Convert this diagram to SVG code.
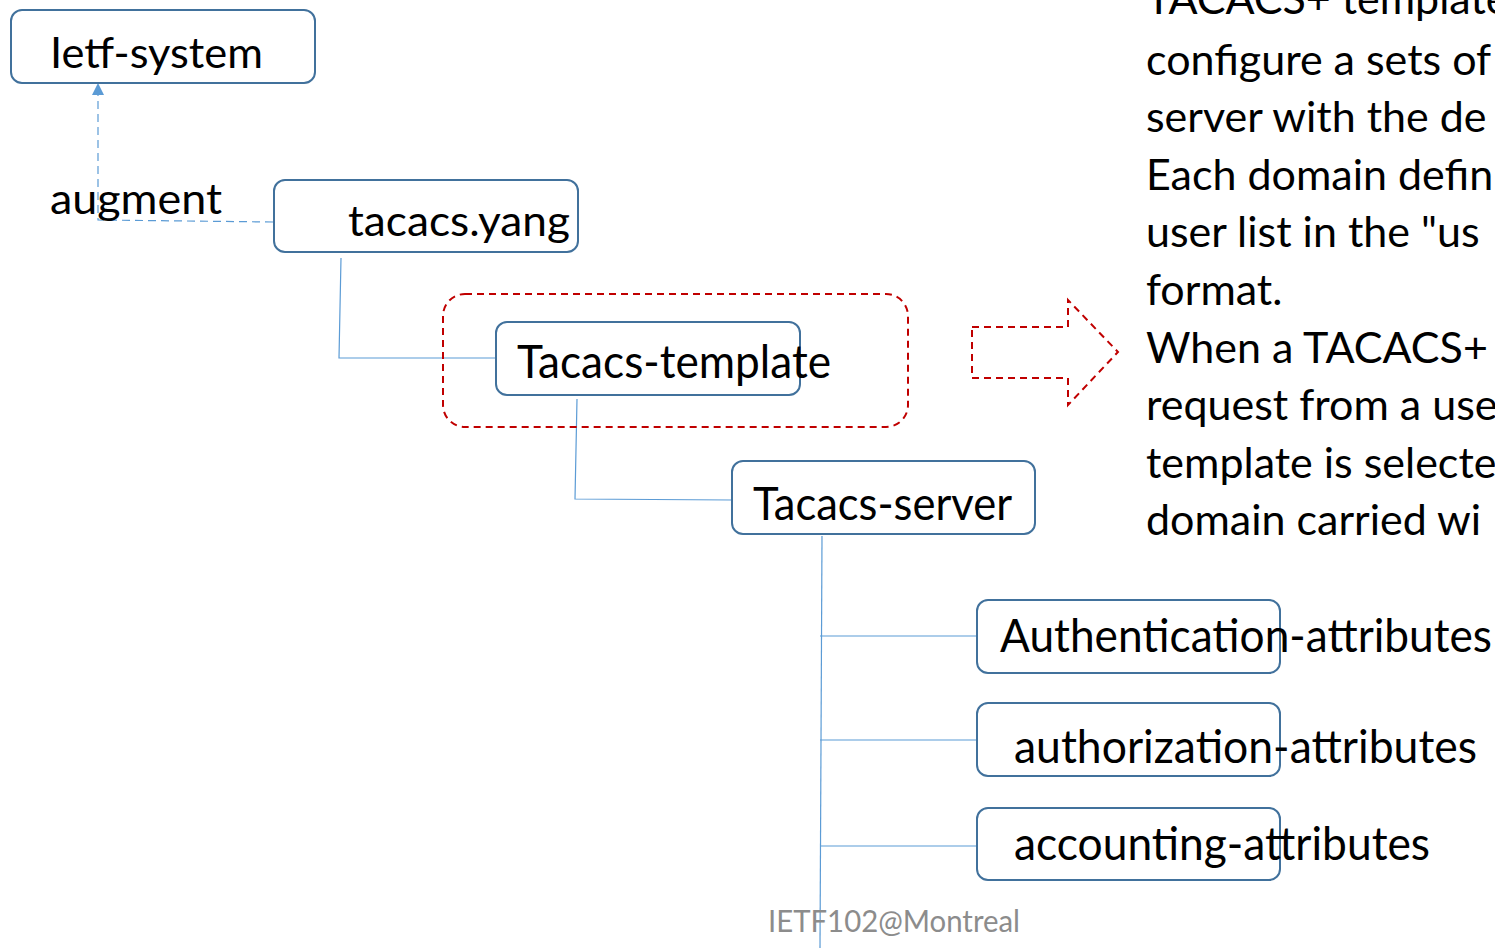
<svg xmlns="http://www.w3.org/2000/svg" width="1495" height="948" viewBox="0 0 1495 948">
<style>
.box{fill:#fff;stroke:#41719C;stroke-width:2}
.lbl{font-family:Lato,"Open Sans",sans-serif;fill:#000}
.conn{fill:none;stroke:#5B9BD5;stroke-width:1.2}
.red{fill:none;stroke:#C00000;stroke-width:2;stroke-dasharray:7 5}
.body{font-family:Lato,"Open Sans",sans-serif;font-size:43px;fill:#000}
</style>
<defs>
<marker id="ah" viewBox="0 0 10 10" refX="10" refY="5" markerUnits="userSpaceOnUse" markerWidth="13" markerHeight="12" orient="auto">
<path d="M0,0 L10,5 L0,10 z" fill="#5B9BD5"/>
</marker>
</defs>
<rect width="1495" height="948" fill="#fff"/>
<g id="connectors">
<path class="conn" d="M273,222 L98,220 L98,83" stroke-dasharray="8 5" marker-end="url(#ah)"/>
<path class="conn" d="M341,258 L339,358 L496,358"/>
<path class="conn" d="M577,399 L575,499 L732,500"/>
<path class="conn" d="M822,536 L820,948"/>
<path class="conn" d="M820,636 L977,636"/>
<path class="conn" d="M820,740 L977,740"/>
<path class="conn" d="M820,846 L977,846"/>
</g>
<g id="augment-label">
<text class="lbl" x="50" y="214" font-size="42" textLength="172" lengthAdjust="spacingAndGlyphs">augment</text>
</g>
<g id="ietf-system">
<rect class="box" x="11" y="10" width="304" height="73" rx="11"/>
<text class="lbl" x="50" y="68" font-size="43" textLength="213" lengthAdjust="spacingAndGlyphs">Ietf-system</text>
</g>
<g id="tacacs-yang">
<rect class="box" x="274" y="180" width="304" height="72" rx="11"/>
<text class="lbl" x="348" y="236" font-size="43" textLength="222" lengthAdjust="spacingAndGlyphs">tacacs.yang</text>
</g>
<g id="template-group">
<rect class="red" x="443" y="294" width="465" height="133" rx="22"/>
</g>
<g id="tacacs-template">
<rect class="box" x="496" y="322" width="304" height="73" rx="11"/>
<text class="lbl" x="517" y="378" font-size="46" textLength="314" lengthAdjust="spacingAndGlyphs">Tacacs-template</text>
</g>
<g id="tacacs-server">
<rect class="box" x="732" y="461" width="303" height="73" rx="11"/>
<text class="lbl" x="753" y="520" font-size="46" textLength="259" lengthAdjust="spacingAndGlyphs">Tacacs-server</text>
</g>
<g id="arrow">
<path class="red" d="M972,327 L1068,327 L1068,300 L1118,352 L1068,405 L1068,378 L972,378 Z"/>
</g>
<g id="description">
<text class="body" x="1146" y="14">TACACS+ template</text>
<text class="body" x="1146" y="75">configure a sets of</text>
<text class="body" x="1146" y="132">server with the de</text>
<text class="body" x="1146" y="190">Each domain defin</text>
<text class="body" x="1146" y="247">user list in the "us</text>
<text class="body" x="1146" y="305">format.</text>
<text class="body" x="1146" y="363">When a TACACS+ c</text>
<text class="body" x="1146" y="420">request from a use</text>
<text class="body" x="1146" y="478">template is selecte</text>
<text class="body" x="1146" y="535">domain carried wi</text>
</g>
<g id="authentication">
<rect class="box" x="977" y="600" width="303" height="73" rx="11"/>
<text class="lbl" x="1000" y="652" font-size="46" textLength="492" lengthAdjust="spacingAndGlyphs">Authentication-attributes</text>
</g>
<g id="authorization">
<rect class="box" x="977" y="703" width="303" height="73" rx="11"/>
<text class="lbl" x="1014" y="763" font-size="46" textLength="463" lengthAdjust="spacingAndGlyphs">authorization-attributes</text>
</g>
<g id="accounting">
<rect class="box" x="977" y="808" width="303" height="72" rx="11"/>
<text class="lbl" x="1014" y="860" font-size="46" textLength="416" lengthAdjust="spacingAndGlyphs">accounting-attributes</text>
</g>
<g id="footer">
<text x="768" y="932" font-family="Lato,'Open Sans',sans-serif" font-size="30" fill="#8C8C8C" textLength="252" lengthAdjust="spacingAndGlyphs">IETF102@Montreal</text>
</g>
</svg>
